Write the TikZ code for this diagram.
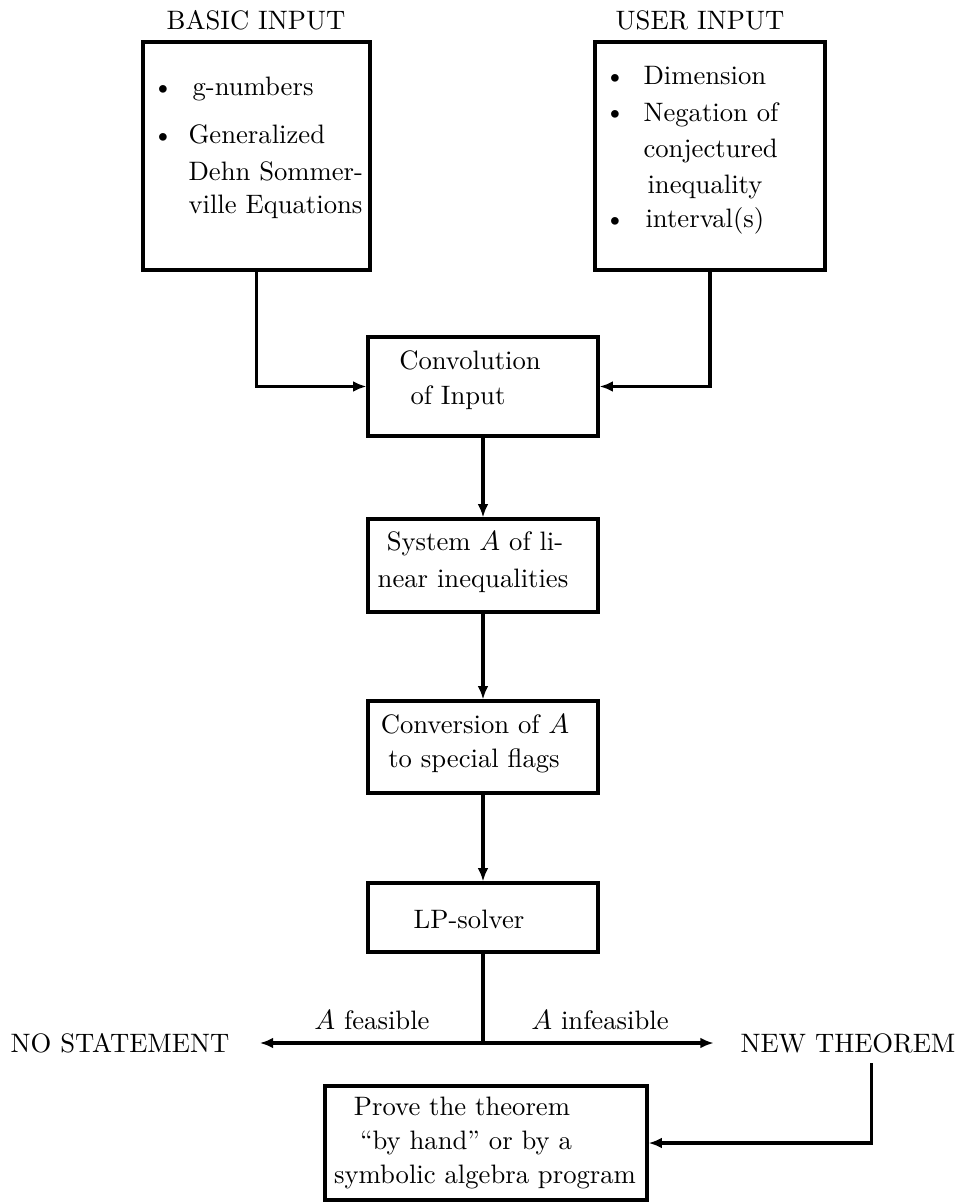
\documentclass[tikz,border=0pt]{standalone}
\usetikzlibrary{arrows.meta,fit}
\begin{document}
\begin{tikzpicture}[x=0.36pt,y=-0.36pt,
  txt/.style={inner sep=0pt,font=\fontsize{9.6}{12}\selectfont},
  box/.style={draw,line width=1.15pt,inner sep=0pt},
  conn/.style={line width=1.1pt},
  arr/.style={line width=1.1pt,-{Latex[length=4.8pt,width=3.9pt]}},
  bul/.style={txt,anchor=mid}]
\useasboundingbox (0,0) rectangle (957,1202);
% top input boxes
\node[box,fit={(143,42)(370,270)}] (bas) {};
\node[box,fit={(595,42)(825,270)}] (usr) {};
\node[txt,anchor=base] (basl) at (256,30) {BASIC INPUT};
\node[txt,anchor=base] (usrl) at (700,30) {USER INPUT};
% basic input items
\node[bul] (b1) at (163,90) {\textbullet};
\node[txt,anchor=mid west] (b1t) at (192,90) {g-numbers};
\node[bul] (b2) at (163,138) {\textbullet};
\node[txt,anchor=mid west] (b2t) at (188,138) {Generalized};
\node[txt,anchor=mid west] (b2u) at (188,175) {Dehn Sommer-};
\node[txt,anchor=mid west] (b2v) at (188,208) {ville Equations};
% user input items
\node[bul] (u1) at (615,79) {\textbullet};
\node[txt,anchor=mid west] (u1t) at (643,79) {Dimension};
\node[bul] (u2) at (615,115) {\textbullet};
\node[txt,anchor=mid west] (u2t) at (643,116) {Negation of};
\node[txt,anchor=mid west] (u2u) at (643,152) {conjectured};
\node[txt,anchor=mid west] (u2v) at (647,188) {inequality};
\node[bul] (u3) at (615,222) {\textbullet};
\node[txt,anchor=mid west] (u3t) at (645,222) {interval(s)};
% chain of boxes
\node[box,fit={(368,337)(598,436)}] (conv) {};
\node[txt,anchor=base] (conv1) at (470,370) {Convolution};
\node[txt,anchor=base] (conv2) at (458,405) {of Input};
\node[box,fit={(368,519)(598,612)}] (sys) {};
\node[txt,anchor=base] (sys1) at (475,550) {System $A$ of li-};
\node[txt,anchor=base] (sys2) at (473,587) {near inequalities};
\node[box,fit={(368,701)(598,793)}] (cnv) {};
\node[txt,anchor=base] (cnv1) at (475,733) {Conversion of $A$};
\node[txt,anchor=base] (cnv2) at (474,767) {to special flags};
\node[box,fit={(368,883)(598,952)}] (lp) {};
\node[txt,anchor=base] (lpt) at (469,928) {LP-solver};
% outcomes
\node[txt,anchor=base] (nost) at (120,1052) {NO STATEMENT};
\node[txt,anchor=base] (newt) at (848,1052) {NEW THEOREM};
\node[txt,anchor=base] (feas) at (372,1029) {$A$ feasible};
\node[txt,anchor=base] (infeas) at (600,1029) {$A$ infeasible};
\coordinate (br) at (483,1043);
% prove box
\node[box,fit={(325,1086)(647,1200)}] (prove) {};
\node[txt,anchor=base] (p1) at (462,1115) {Prove the theorem};
\node[txt,anchor=base] (p2) at (466,1149) {``by hand'' or by a};
\node[txt,anchor=base] (p3) at (485,1183) {symbolic algebra program};
% connectors
\draw[arr] (bas.south) |- (conv.west);
\draw[arr] (usr.south) |- (conv.east);
\draw[arr] (conv.south) -- (sys.north);
\draw[arr] (sys.south) -- (cnv.north);
\draw[arr] (cnv.south) -- (lp.north);
\draw[conn] (lp.south) -- (br);
\draw[arr,shorten >=10.8pt] (br) -- (br -| nost.east);
\draw[arr,shorten >=9.5pt] (br) -- (br -| newt.west);
\draw[arr,shorten <=3.6pt] ([xshift=8.6pt]newt.south) |- (prove.east);
\end{tikzpicture}
\end{document}
